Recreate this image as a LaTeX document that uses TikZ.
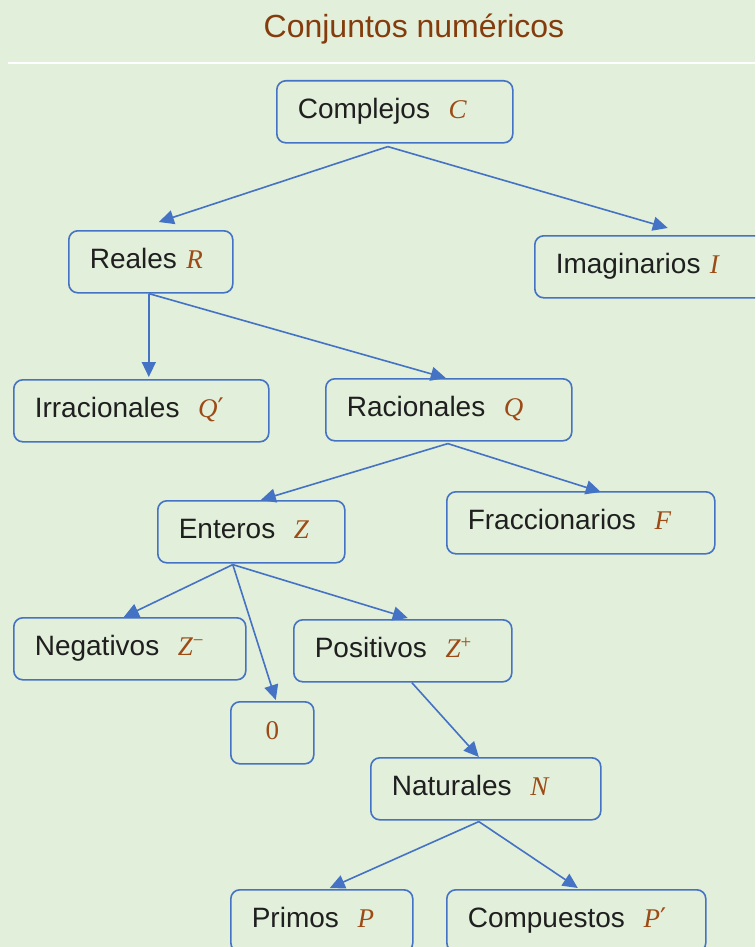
\documentclass[tikz,border=0pt]{standalone}
\usepackage{fontspec}
\setmainfont{Liberation Sans}
\newfontfamily\letterfont{Liberation Serif}
\newfontfamily\primefont{DejaVu Serif}
\usepackage{xcolor}
\usetikzlibrary{arrows.meta}

\definecolor{bgreen}{HTML}{E2EFDA}
\definecolor{titlebrown}{HTML}{843C0C}
\definecolor{letterbrown}{HTML}{9C4A16}
\definecolor{edgeblue}{HTML}{4472C4}
\definecolor{textgray}{HTML}{1F1F1F}

\newcommand{\conj}[1]{{\color{letterbrown}\letterfont\itshape\fontsize{27}{34}\selectfont #1}}
\newcommand{\prm}{{\primefont\upshape\char"2032}}

\tikzset{
  box/.style={draw=edgeblue, line width=1.6pt, rounded corners=9pt, fill=bgreen,
    anchor=north west, inner xsep=21pt, inner ysep=0pt, minimum height=62pt,
    align=left, text height=20pt, text depth=6pt, text=textgray,
    font=\fontsize{28}{34}\selectfont},
  link/.style={draw=edgeblue, line width=1.6pt, -{Triangle[length=15pt,width=14pt]}}
}

\begin{document}
\begin{tikzpicture}[x=1pt, y=-1pt]
    \useasboundingbox (0,0) rectangle (755,947);
    \clip (0,0) rectangle (755,947);
    \fill[bgreen] (0,0) rectangle (755,947);
    % Title
    \node[anchor=base, text=titlebrown, font=\fontsize{32}{38}\selectfont] (title) at (414,38) {Conjuntos numéricos};
    \draw[white, line width=2pt] (8,63) -- (755,63);
    % Sets
    \node[box, text width=194pt] (cmp) at (276,80) {Complejos\ \ \conj{C}};
    \node[box, text width=122pt] (rea) at (68,230) {Reales \conj{R}};
    \node[box, text width=204pt] (ima) at (534,235) {Imaginarios \conj{I}};
    \node[box, text width=213pt] (irr) at (13,379) {Irracionales\ \ \conj{Q\prm}};
    \node[box, text width=204pt] (rac) at (325,378) {Racionales\ \ \conj{Q}};
    \node[box, text width=145pt] (ent) at (157,500) {Enteros\ \ \conj{Z}};
    \node[box, text width=226pt] (fra) at (446,491) {Fraccionarios\ \ \conj{F}};
    \node[box, text width=190pt] (neg) at (13,617) {Negativos\ \ \conj{Z\textsuperscript{\upshape\char"2212}}};
    \node[box, text width=41pt, align=center] (zero) at (230,701) {\conj{\upshape 0}};
    \node[box, text width=176pt] (pos) at (293,619) {Positivos\ \ \conj{Z\textsuperscript{\upshape +}}};
    \node[box, text width=188pt] (nat) at (370,757) {Naturales\ \ \conj{N}};
    \node[box, text width=140pt] (pri) at (230,889) {Primos\ \ \conj{P}};
    \node[box, text width=217pt] (com) at (446,889) {Compuestos\ \ \conj{P\prm}};
    % Edges
    \draw[link] ([xshift=-7pt,yshift=-3pt]cmp.south) -- ([xshift=8pt,yshift=8pt]rea.north);
    \draw[link] ([xshift=-7pt,yshift=-3pt]cmp.south) -- ([xshift=10pt,yshift=7pt]ima.north);
    \draw[link] ([xshift=-2pt]rea.south) -- ([xshift=7.5pt,yshift=2pt]irr.north);
    \draw[link] ([xshift=-2pt]rea.south) -- ([xshift=-3pt]rac.north);
    \draw[link] ([xshift=-1pt,yshift=-2pt]rac.south) -- ([xshift=9.5pt]ent.north);
    \draw[link] ([xshift=-1pt,yshift=-2pt]rac.south) -- ([xshift=20pt,yshift=-1pt]fra.north);
    \draw[link] ([xshift=-18.5pt,yshift=-1pt]ent.south) -- ([xshift=-6pt]neg.north);
    \draw[link] ([xshift=-18.5pt,yshift=-1pt]ent.south) -- ([xshift=3.5pt,yshift=1pt]zero.north);
    \draw[link] ([xshift=-18.5pt,yshift=-1pt]ent.south) -- ([xshift=5pt,yshift=1pt]pos.north);
    \draw[link] ([xshift=9pt]pos.south) -- ([xshift=-7pt]nat.north);
    \draw[link] ([xshift=-7pt,yshift=-1pt]nat.south) -- ([xshift=8pt,yshift=1pt]pri.north);
    \draw[link] ([xshift=-7pt,yshift=-1pt]nat.south) -- ([xshift=1.5pt,yshift=1pt]com.north);
\end{tikzpicture}
\end{document}
